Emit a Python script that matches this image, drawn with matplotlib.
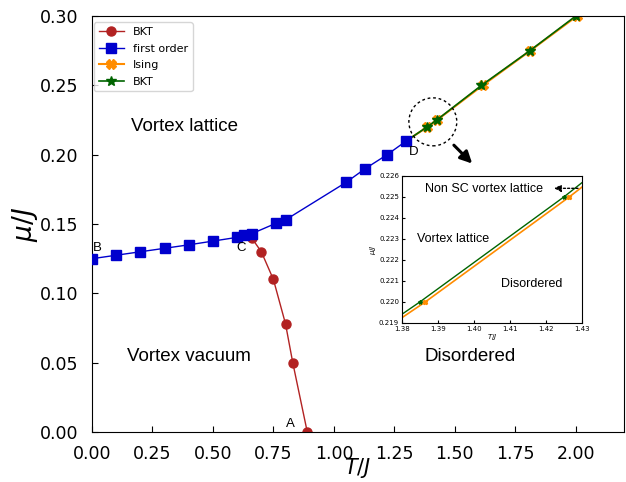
import numpy as np
import matplotlib
matplotlib.use("Agg")
import matplotlib.pyplot as plt
from matplotlib.patches import Ellipse

# phase boundary data
bkt_T = [0.66, 0.70, 0.75, 0.80, 0.83, 0.89]
bkt_mu = [0.140, 0.130, 0.110, 0.078, 0.050, 0.000]

fo_T = [0.0, 0.1, 0.2, 0.3, 0.4, 0.5, 0.6, 0.63, 0.66, 0.76, 0.80, 1.05, 1.13, 1.22, 1.30]
fo_mu = [0.125, 0.1275, 0.130, 0.1325, 0.135, 0.1377, 0.1404, 0.1418, 0.143, 0.1505, 0.153,
         0.180, 0.190, 0.200, 0.210]

ising_T = [1.30, 1.3865, 1.4265, 1.615, 1.812, 2.005]
ising_mu = [0.210, 0.220, 0.225, 0.250, 0.275, 0.300]

bkt2_T = [1.30, 1.385, 1.425, 1.61, 1.81, 2.00]
bkt2_mu = [0.210, 0.220, 0.225, 0.250, 0.275, 0.300]

c_red = "#b22222"
c_blue = "#0000cd"
c_orange = "#ff8c00"
c_green = "#006400"
sans = ["Liberation Sans", "DejaVu Sans"]

fig = plt.figure(figsize=(6.26, 4.82), dpi=100)
ax = fig.add_axes([0.147, 0.1037, 0.85, 0.863])

ax.plot(bkt_T, bkt_mu, "-o", color=c_red, lw=1.0, ms=6.5, label="BKT", zorder=2)
ax.plot(fo_T, fo_mu, "-s", color=c_blue, lw=1.0, ms=7.5, label="first order", zorder=3)
ax.plot(ising_T, ising_mu, "-X", color=c_orange, lw=1.5, ms=7, markevery=slice(1, None),
        label="Ising", zorder=2)
ax.plot(bkt2_T, bkt2_mu, "-*", color=c_green, lw=1.2, ms=7, markevery=slice(1, None),
        label="BKT", zorder=2)

ax.set_xlim(0, 2.2)
ax.set_ylim(0, 0.30)
ax.set_xticks(np.arange(0, 2.01, 0.25))
ax.tick_params(direction="in", labelsize=12.5, length=4)
ax.tick_params(axis="x", pad=9.5)
ax.tick_params(axis="y", pad=10)
ax.set_xlabel(r"$T/J$", fontsize=15, labelpad=-5)
ax.set_ylabel(r"$\mu/J$", fontsize=19, labelpad=0)

ax.legend(loc="upper left", fontsize=8, bbox_to_anchor=(0.0, 0.99), borderaxespad=0.2,
          handlelength=2.3, labelspacing=0.6)

ax.text(0.381, 0.2207, "Vortex lattice", fontsize=13.5, family=sans, ha="center", va="center")
ax.text(0.399, 0.0543, "Vortex vacuum", fontsize=13.5, family=sans, ha="center", va="center")
ax.text(1.563, 0.0543, "Disordered", fontsize=13.5, family=sans, ha="center", va="center")
ax.text(0.005, 0.1325, "B", fontsize=9.5, family=sans, ha="left", va="center")
ax.text(0.617, 0.133, "C", fontsize=9.5, family=sans, ha="center", va="center")
ax.text(1.329, 0.202, "D", fontsize=9.5, family=sans, ha="center", va="center")
ax.text(0.822, 0.0058, "A", fontsize=9.5, family=sans, ha="center", va="center")

ax.add_patch(Ellipse((1.409, 0.2237), 0.198, 0.0346, fill=False, ls=(0, (2, 2)),
                     lw=1.0, color="black", zorder=4))
ax.annotate("", xy=(1.580, 0.1922), xytext=(1.488, 0.2083),
            arrowprops=dict(arrowstyle="-|>,head_width=0.35,head_length=0.7",
                            color="black", lw=2.2))

# zoomed inset
ins = fig.add_axes([0.642, 0.330, 0.2875, 0.305])
ins.plot(ising_T, ising_mu, "-X", color=c_orange, lw=1.2, ms=3, markevery=slice(1, None))
ins.plot(bkt2_T, bkt2_mu, "-*", color=c_green, lw=1.0, ms=3, markevery=slice(1, None))
ins.set_xlim(1.38, 1.43)
ins.set_ylim(0.219, 0.226)
ins.set_xticks([1.38, 1.39, 1.40, 1.41, 1.42, 1.43])
ins.set_yticks([0.219, 0.220, 0.221, 0.222, 0.223, 0.224, 0.225, 0.226])
ins.tick_params(direction="in", labelsize=5, length=2, pad=2)
ins.set_xlabel(r"$T/J$", fontsize=5, labelpad=0)
ins.set_ylabel(r"$\mu/J$", fontsize=5, labelpad=1)
ins.text(1.4027, 0.2254, "Non SC vortex lattice", fontsize=9, family=sans, ha="center", va="center")
ins.text(1.3941, 0.2230, "Vortex lattice", fontsize=9, family=sans, ha="center", va="center")
ins.text(1.4161, 0.22086, "Disordered", fontsize=9, family=sans, ha="center", va="center")
ins.annotate("", xy=(1.4215, 0.22541), xytext=(1.4297, 0.22541),
             arrowprops=dict(arrowstyle="-|>,head_width=0.2,head_length=0.4",
                             color="black", lw=1.0, ls=(0, (1.5, 1.5))))

fig.savefig("out.png", dpi=100)
